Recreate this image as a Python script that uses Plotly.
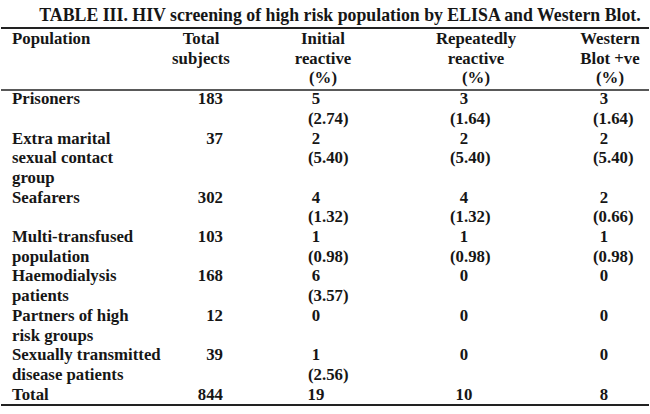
import plotly.graph_objects as go

# table contents
title = "TABLE III. HIV screening of high risk population by ELISA and Western Blot."

headers = [
    ["Population"],
    ["Total", "subjects"],
    ["Initial", "reactive", "(%)"],
    ["Repeatedly", "reactive", "(%)"],
    ["Western", "Blot +ve", "(%)"],
]

populations = [
    ["Prisoners"],
    ["Extra marital", "sexual contact", "group"],
    ["Seafarers"],
    ["Multi-transfused", "population"],
    ["Haemodialysis", "patients"],
    ["Partners of high", "risk groups"],
    ["Sexually transmitted", "disease patients"],
    ["Total"],
]
total_subjects = [183, 37, 302, 103, 168, 12, 39, 844]
initial_reactive = [5, 2, 4, 1, 6, 0, 1, 19]
initial_pct = ["2.74", "5.40", "1.32", "0.98", "3.57", None, "2.56", None]
repeat_reactive = [3, 2, 4, 1, 0, 0, 0, 10]
repeat_pct = ["1.64", "5.40", "1.32", "0.98", None, None, None, None]
western_pos = [3, 2, 2, 1, 0, 0, 0, 8]
western_pct = ["1.64", "5.40", "0.66", "0.98", None, None, None, None]

# layout (pixel-like axis units, y grows downward)
W, H = 650, 414
FONT = "Liberation Serif"
INK = "#161616"
HEAD_Y0, HEAD_STEP = 40, 19.6
BODY_Y0, LINE = 100, 19.7
RULES = [(28, 2.2), (90, 1.6), (405, 2.2)]

# header anchor per column: (x, textposition)
head_pos = [(12, "middle right"), (201, "middle center"), (323, "middle center"),
            (476, "middle center"), (610, "middle center")]
# body columns: count centre x, percent left x
count_x = [316, 464, 604]
pct_x = [308, 450, 593]
LABEL_X, TOTAL_X = 12, 223

pts = {"middle right": [], "middle center": [], "middle left": []}

for (x, pos), lines in zip(head_pos, headers):
    for i, t in enumerate(lines):
        pts[pos].append((x, HEAD_Y0 + i * HEAD_STEP, t))

counts = [initial_reactive, repeat_reactive, western_pos]
pcts = [initial_pct, repeat_pct, western_pct]

line = 0
for r, label in enumerate(populations):
    y0 = BODY_Y0 + line * LINE
    for i, t in enumerate(label):
        pts["middle right"].append((LABEL_X, y0 + i * LINE, t))
    pts["middle left"].append((TOTAL_X, y0, str(total_subjects[r])))
    has_pct = False
    for c in range(3):
        pts["middle center"].append((count_x[c], y0, str(counts[c][r])))
        if pcts[c][r] is not None:
            has_pct = True
            pts["middle right"].append((pct_x[c], y0 + LINE, "(" + pcts[c][r] + ")"))
    line += max(len(label), 2 if has_pct else 1)

fig = go.Figure()
for pos, p in pts.items():
    fig.add_trace(go.Scatter(
        x=[a[0] for a in p], y=[a[1] for a in p],
        text=["<b>" + a[2] + "</b>" for a in p],
        mode="text", textposition=pos, marker=dict(size=1),
        textfont=dict(family=FONT, size=16.8, color=INK),
        hoverinfo="skip", showlegend=False,
    ))

for y, w in RULES:
    fig.add_shape(type="line", xref="x", yref="y", x0=1, x1=649, y0=y, y1=y,
                  line=dict(color="#222", width=w))

fig.update_layout(
    width=W, height=H,
    margin=dict(l=0, r=0, t=0, b=0),
    paper_bgcolor="white", plot_bgcolor="white",
    title=dict(text="<b>" + title + "</b>", x=340 / W, xanchor="center",
               y=1 - 15 / H, yanchor="middle",
               font=dict(family=FONT, size=17.8, color=INK)),
    xaxis=dict(range=[0, W], visible=False, fixedrange=True),
    yaxis=dict(range=[H, 0], visible=False, fixedrange=True),
)

# page body has a default 8px margin, drop it so the figure fills the window
fig.write_html("out.html", config={"displayModeBar": False},
               post_script="document.body.style.margin='0';")
